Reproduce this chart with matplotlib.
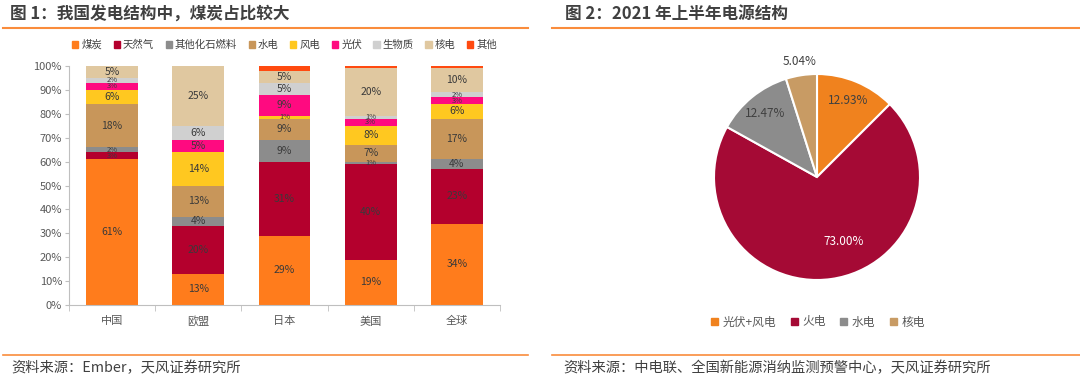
import numpy as np
import matplotlib
matplotlib.use("Agg")
import matplotlib.pyplot as plt
from matplotlib.lines import Line2D
from matplotlib.patches import Rectangle

plt.rcParams["font.family"] = ["Noto Sans CJK SC", "DejaVu Sans"]

# ---- data: figure 1 (share of generation, %) ----
countries = ["中国", "欧盟", "日本", "美国", "全球"]
sources = ["煤炭", "天然气", "其他化石燃料", "水电", "风电", "光伏", "生物质", "核电", "其他"]
coal = [61, 13, 29, 19, 34]
gas = [3, 20, 31, 40, 23]
other_fossil = [2, 4, 9, 1, 4]
hydro = [18, 13, 9, 7, 17]
wind = [6, 14, 1, 8, 6]
solar = [3, 5, 9, 3, 3]
biomass = [2, 6, 5, 1, 2]
nuclear = [5, 25, 5, 20, 10]
other = [0, 0, 2, 1, 1]
bar_colors = ["#FF7C1C", "#B4002D", "#8C8C8C", "#C8965A", "#FFC820",
              "#FF0A80", "#D0D0D0", "#E0C8A0", "#FF4A10"]

# ---- data: figure 2 (2021 H1 power structure, %) ----
pie_labels = ["光伏+风电", "火电", "水电", "核电"]
pie_values = [12.93, 73.00, 12.47, 5.04]
pie_colors = ["#F0821E", "#A50A35", "#8C8C8C", "#C89B64"]

W, H = 1080, 385
fig = plt.figure(figsize=(W / 100, H / 100), dpi=100)
text_col = "#404040"
line_col = "#FA8C3C"


def px(x0, y0, x1, y1):
    # pixel box (top-left origin) -> figure fraction rect
    return [x0 / W, 1 - y1 / H, (x1 - x0) / W, (y1 - y0) / H]


# titles, rules and sources
fig.text(10 / W, 1 - 14 / H, "图 1：我国发电结构中，煤炭占比较大", fontsize=12,
         fontweight="bold", color=text_col, va="center")
fig.text(565 / W, 1 - 14 / H, "图 2：2021 年上半年电源结构", fontsize=12,
         fontweight="bold", color=text_col, va="center")
for xa, xb in [(3, 528), (552, 1080)]:
    fig.add_artist(Line2D([xa / W, xb / W], [1 - 27.5 / H] * 2, color=line_col, lw=1.5))
    fig.add_artist(Line2D([xa / W, xb / W], [1 - 355 / H] * 2, color=line_col, lw=1.2))
fig.text(11 / W, 1 - 368 / H, "资料来源：Ember，天风证券研究所", fontsize=10.3,
         color=text_col, va="center")
fig.text(563 / W, 1 - 368 / H, "资料来源：中电联、全国新能源消纳监测预警中心，天风证券研究所",
         fontsize=10.3, color=text_col, va="center")

# ---- stacked bar chart ----
ax = fig.add_axes(px(69, 66, 500, 305))
series = [coal, gas, other_fossil, hydro, wind, solar, biomass, nuclear, other]
x = np.arange(len(countries))
bottom = np.zeros(len(countries))
handles = []
for name, vals, col in zip(sources, series, bar_colors):
    vals = np.array(vals, dtype=float)
    ax.bar(x, vals, 0.6, bottom=bottom, color=col, label=name)
    if name != "其他":
        for xi, b, v in zip(x, bottom, vals):
            if v > 0:
                # thin slices get a smaller label so neighbours don't pile up
                ax.text(xi, b + v / 2, f"{int(v)}%", ha="center", va="center",
                        fontsize=7.5 if v >= 4 else 5.5, color="#3A3A3A")
    bottom += vals
    handles.append(Rectangle((0, 0), 1, 1, color=col))

ax.set_xlim(-0.5, len(countries) - 0.5)
ax.set_ylim(0, 100)
ax.set_yticks(np.arange(0, 101, 10))
ax.set_yticklabels([f"{v}%" for v in range(0, 101, 10)])
ax.set_xticks(x)
ax.set_xticklabels(countries)
ax.set_xticks(np.arange(-0.5, len(countries)), minor=True)
ax.tick_params(axis="x", which="major", length=0, pad=8)
ax.tick_params(axis="x", which="minor", length=4, color="#BFBFBF")
ax.tick_params(axis="y", length=3, color="#BFBFBF", pad=2)
ax.tick_params(labelsize=8, labelcolor="#595959")
for s in ["top", "right"]:
    ax.spines[s].set_visible(False)
for s in ["left", "bottom"]:
    ax.spines[s].set_color("#BFBFBF")
    ax.spines[s].set_linewidth(0.8)

ax.legend(handles, sources, loc="center", bbox_to_anchor=(0.5, 1 + 21 / 239),
          ncol=9, frameon=False, fontsize=7.5, handlelength=0.6, handleheight=0.6,
          handletextpad=0.3, columnspacing=1.1, labelcolor="#404040")

# ---- pie chart ----
r_px = 103
cx, cy = 817, 177
half = r_px * 1.12
pax = fig.add_axes(px(cx - half, cy - half, cx + half, cy + half))
wedges, _ = pax.pie(pie_values, colors=pie_colors, startangle=90, counterclock=False,
                    wedgeprops=dict(edgecolor="white", linewidth=1.5))
pax.set_xlim(-1.12, 1.12)
pax.set_ylim(-1.12, 1.12)
pax.set_aspect("equal")

label_r = [0.8, 0.68, 0.8, 1.13]
label_shift = [0, 14, 0, 0]   # degrees, nudges the big slice label toward the lower right
label_c = ["#404040", "white", "#404040", "#404040"]
for w, v, r, d, c in zip(wedges, pie_values, label_r, label_shift, label_c):
    ang = np.deg2rad((w.theta1 + w.theta2) / 2 + d)
    pax.text(r * np.cos(ang), r * np.sin(ang), f"{v:.2f}%", ha="center", va="center",
             fontsize=8.5, color=c)

pie_handles = [Rectangle((0, 0), 1, 1, color=c) for c in pie_colors]
fig.legend(pie_handles, pie_labels, loc="center", bbox_to_anchor=(818 / W, 1 - 322 / H),
           ncol=4, frameon=False, fontsize=8.5, handlelength=0.6, handleheight=0.6,
           handletextpad=0.4, columnspacing=1.2, labelcolor="#595959")

fig.savefig("out.png", dpi=100, facecolor="white")
